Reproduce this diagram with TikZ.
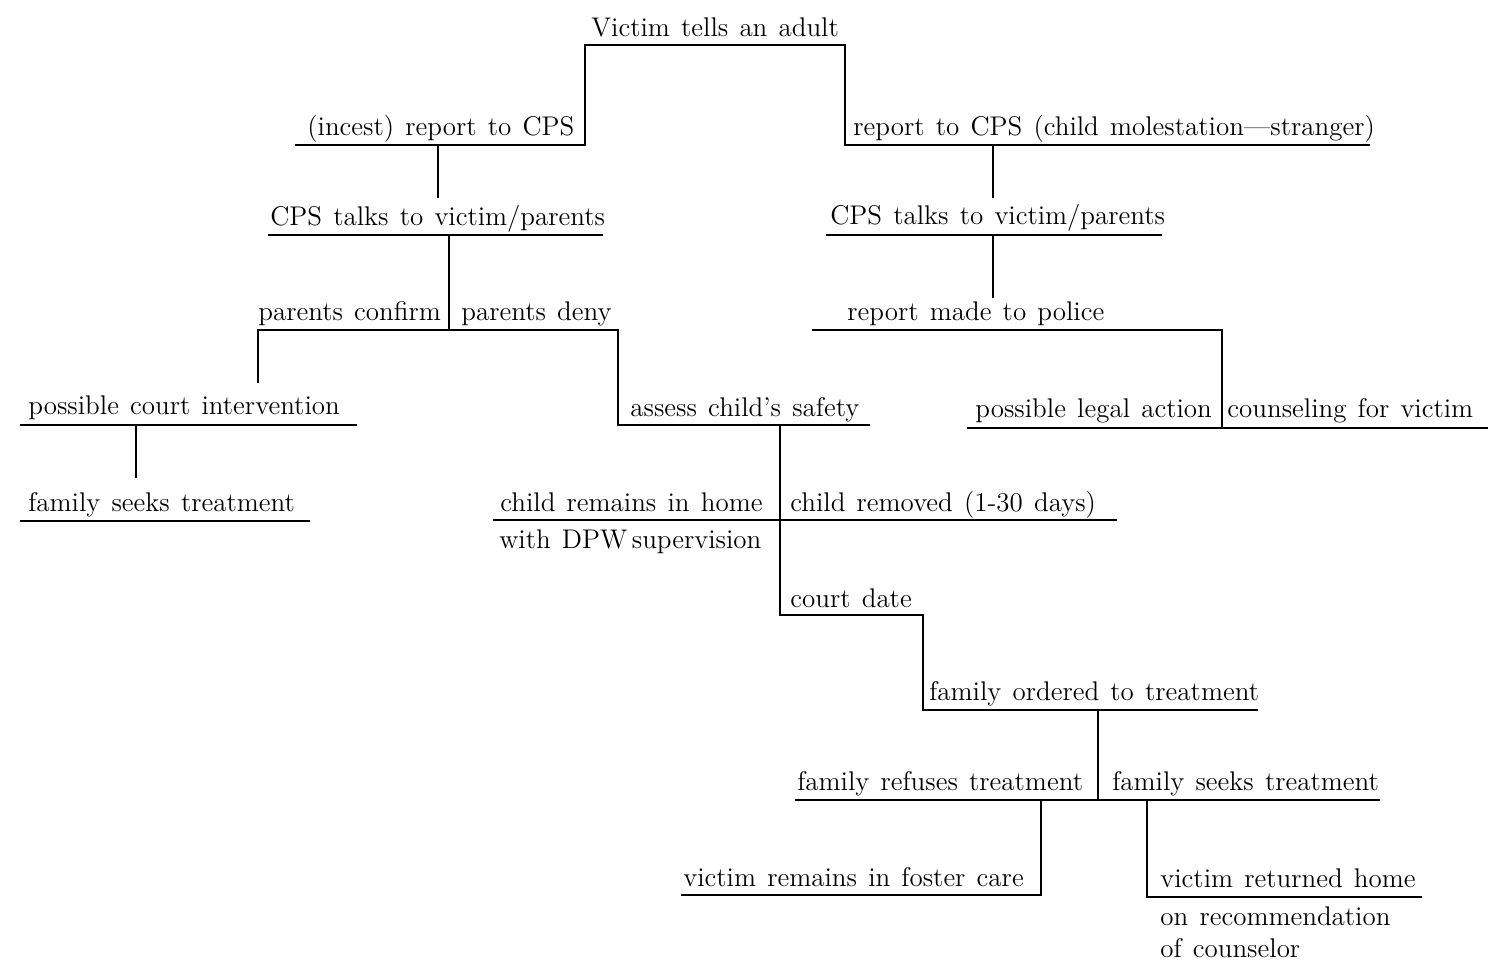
\documentclass[tikz,border=0pt]{standalone}
\usetikzlibrary{positioning}

\tikzset{
  lbl/.style={anchor=base west, inner sep=0pt,
    font={\fontsize{13.5}{16}\selectfont\spaceskip=5.6pt\relax}},
  rule/.style={line width=0.9pt}
}

\begin{document}
\begin{tikzpicture}[x=0.5pt,y=-0.5pt]
  \useasboundingbox (0,0) rectangle (1488,962);

  % labels, each sitting on its rule
  \node[lbl] (tells)    at (591,37)   {Victim tells an adult};
  \node[lbl] (incest)   at (307,136)  {(incest) report to CPS};
  \node[lbl] (stranger) at (853,136)  {report to CPS (child molestation---stranger)};
  \node[lbl] (talksL)   at (270,226)  {CPS talks to victim/parents};
  \node[lbl] (talksR)   at (830,225)  {CPS talks to victim/parents};
  \node[lbl] (confirm)  at (258,321)  {parents confirm};
  \node[lbl] (deny)     at (461,321)  {parents deny};
  \node[lbl] (police)   at (847,321)  {report made to police};
  \node[lbl] (court)    at (28,415)   {possible court intervention};
  \node[lbl] (assess)   at (630,416)  {assess child's safety};
  \node[lbl] (legal)    at (975,418)  {possible legal action};
  \node[lbl] (counsel)  at (1227,418) {counseling for victim};
  \node[lbl] (seeksL)   at (28,511)   {family seeks treatment};
  \node[lbl] (home)     at (500,511)  {child remains in home};
  \node[lbl] (removed)  at (790,511)  {child removed (1-30 days)};
  \node[lbl] (dpw)      at (499,548)  {with DPW\,supervision};
  \node[lbl] (date)     at (790,607)  {court date};
  \node[lbl] (ordered)  at (929,700)  {family ordered to treatment};
  \node[lbl] (refuses)  at (797,790)  {family refuses treatment};
  \node[lbl] (seeksR)   at (1112,790) {family seeks treatment};
  \node[lbl] (foster)   at (683,886)  {victim remains in foster care};
  \node[lbl] (returned) at (1160,887) {victim returned home};
  \node[lbl] (rec)      at (1160,925) {on recommendation};
  \node[lbl] (of)       at (1160,957) {of counselor};

  % junctions of the tree
  \coordinate (top-l) at (585,45);    \coordinate (top-r) at (845,45);
  \coordinate (inc-l) at (295,145);   \coordinate (inc-r) at (585,145);
  \coordinate (str-l) at (845,145);   \coordinate (str-r) at (1370,145);
  \coordinate (inc-d) at (438,145);   \coordinate (tkL-u) at (438,198);
  \coordinate (tkL-l) at (268,235);   \coordinate (tkL-r) at (603,235);
  \coordinate (tkL-d) at (449,235);   \coordinate (par-m) at (449,330);
  \coordinate (par-l) at (258,330);   \coordinate (par-r) at (618,330);
  \coordinate (cou-u) at (258,383);   \coordinate (ass-l) at (618,425);
  \coordinate (ass-r) at (870,425);
  \coordinate (cou-l) at (20,425);    \coordinate (cou-r) at (357,425);
  \coordinate (cou-d) at (136,425);   \coordinate (fsL-u) at (136,478);
  \coordinate (fsL-l) at (20,521);    \coordinate (fsL-r) at (310,521);
  \coordinate (str-d) at (993,145);   \coordinate (tkR-u) at (993,198);
  \coordinate (tkR-l) at (826,235);   \coordinate (tkR-r) at (1162,235);
  \coordinate (tkR-d) at (993,235);   \coordinate (pol-u) at (993,298);
  \coordinate (pol-l) at (812,330);   \coordinate (pol-r) at (1222,330);
  \coordinate (leg-m) at (1222,428);
  \coordinate (leg-l) at (967,428);   \coordinate (leg-r) at (1488,428);
  \coordinate (ass-d) at (780,425);   \coordinate (dat-l) at (780,615);
  \coordinate (dat-r) at (923,615);   \coordinate (ord-l) at (923,710);
  \coordinate (ord-r) at (1258,710);
  \coordinate (hom-l) at (493,520);   \coordinate (hom-r) at (1117,520);
  \coordinate (ord-d) at (1098,710);  \coordinate (ref-m) at (1098,800);
  \coordinate (ref-l) at (795,800);   \coordinate (ref-r) at (1380,800);
  \coordinate (fos-u) at (1041,800);  \coordinate (fos-r) at (1041,895);
  \coordinate (fos-l) at (681,895);
  \coordinate (ret-u) at (1147,800);  \coordinate (ret-l) at (1147,897);
  \coordinate (ret-r) at (1422,897);

  % rules and connectors
  \draw[rule] (inc-l) -- (inc-r) -- (top-l) -- (top-r) -- (str-l) -- (str-r);
  \draw[rule] (inc-d) -- (tkL-u);
  \draw[rule] (tkL-l) -- (tkL-r);
  \draw[rule] (tkL-d) -- (par-m);
  \draw[rule] (cou-u) -- (par-l) -- (par-r) -- (ass-l) -- (ass-r);
  \draw[rule] (cou-l) -- (cou-r);
  \draw[rule] (cou-d) -- (fsL-u);
  \draw[rule] (fsL-l) -- (fsL-r);
  \draw[rule] (str-d) -- (tkR-u);
  \draw[rule] (tkR-l) -- (tkR-r);
  \draw[rule] (tkR-d) -- (pol-u);
  \draw[rule] (pol-l) -- (pol-r) -- (leg-m);
  \draw[rule] (leg-l) -- (leg-r);
  \draw[rule] (ass-d) -- (dat-l) -- (dat-r) -- (ord-l) -- (ord-r);
  \draw[rule] (hom-l) -- (hom-r);
  \draw[rule] (ord-d) -- (ref-m);
  \draw[rule] (ref-l) -- (ref-r);
  \draw[rule] (fos-u) -- (fos-r) -- (fos-l);
  \draw[rule] (ret-u) -- (ret-l) -- (ret-r);
\end{tikzpicture}
\end{document}
